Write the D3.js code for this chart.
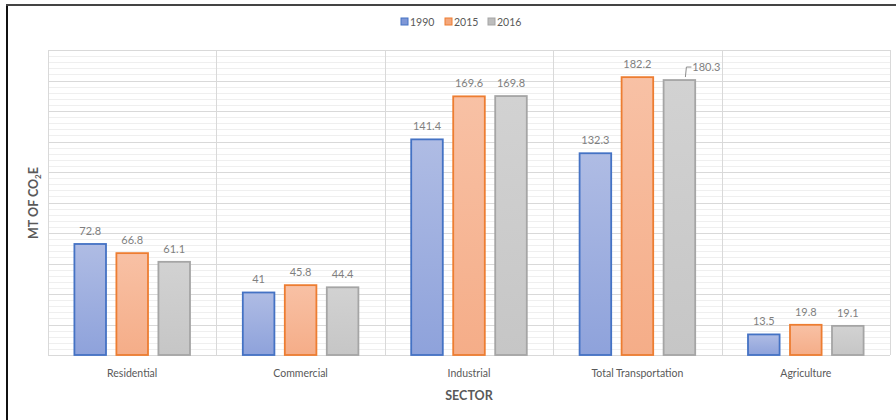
<!DOCTYPE html>
<html>
<head>
<meta charset="utf-8">
<script src="https://cdn.jsdelivr.net/npm/d3@7"></script>
<style>
  html, body { margin: 0; padding: 0; background: #fff; }
  svg { display: block; font-family: Lato, "Open Sans", sans-serif; }
</style>
</head>
<body>
<svg id="chart" width="896" height="420"></svg>
<script>
const categories = ["Residential", "Commercial", "Industrial", "Total Transportation", "Agriculture"];
const seriesNames = ["1990", "2015", "2016"];
const values1990 = [72.8, 41, 141.4, 132.3, 13.5];
const values2015 = [66.8, 45.8, 169.6, 182.2, 19.8];
const values2016 = [61.1, 44.4, 169.8, 180.3, 19.1];
const labels1990 = ["72.8", "41", "141.4", "132.3", "13.5"];
const labels2015 = ["66.8", "45.8", "169.6", "182.2", "19.8"];
const labels2016 = ["61.1", "44.4", "169.8", "180.3", "19.1"];
const yMax = 200;
const yMajorStep = 20;
const yMinorStep = 4;

(function () {
const seriesValues = [values1990, values2015, values2016];
const seriesLabels = [labels1990, labels2015, labels2016];
const fills = ["url(#gBlue)", "url(#gOrange)", "url(#gGray)"];
const strokes = ["#4472c4", "#ed7d31", "#a5a5a5"];
const legendFills = ["#7f97d6", "#f4a77c", "#bdbdbd"];

const svg = d3.select("#chart");
const defs = svg.append("defs");
function grad(id, c1, c2) {
  const g = defs.append("linearGradient").attr("id", id).attr("x1", 0).attr("y1", 0).attr("x2", 0).attr("y2", 1);
  g.append("stop").attr("offset", "0%").attr("stop-color", c1);
  g.append("stop").attr("offset", "100%").attr("stop-color", c2);
}
grad("gBlue", "#afbce4", "#8ea2db");
grad("gOrange", "#f8c1a5", "#f5ad88");
grad("gGray", "#d2d2d2", "#c6c6c6");

// outer frame
svg.append("line").attr("x1", 7).attr("x2", 7).attr("y1", 4).attr("y2", 420).attr("stroke", "#111").attr("stroke-width", 2);
svg.append("line").attr("x1", 6).attr("x2", 896).attr("y1", 5).attr("y2", 5).attr("stroke", "#444").attr("stroke-width", 2);

const pLeft = 48, pRight = 890, pTop = 50, pBottom = 355;
const x = d3.scaleBand().domain(categories).range([pLeft, pRight]).paddingInner(0).paddingOuter(0);
const y = d3.scaleLinear().domain([0, yMax]).range([pBottom, pTop]);

const minorTicks = d3.range(0, yMax + 0.001, yMinorStep).filter(v => Math.abs(v % yMajorStep) > 0.001);
svg.append("g").selectAll("line").data(minorTicks).join("line")
  .attr("x1", pLeft).attr("x2", pRight)
  .attr("y1", d => Math.round(y(d)) + 0.5).attr("y2", d => Math.round(y(d)) + 0.5)
  .attr("stroke", "#efefef").attr("stroke-width", 1);
const majorTicks = d3.range(0, yMax + 0.001, yMajorStep);
svg.append("g").selectAll("line").data(majorTicks).join("line")
  .attr("x1", pLeft).attr("x2", pRight)
  .attr("y1", d => Math.round(y(d)) + 0.5).attr("y2", d => Math.round(y(d)) + 0.5)
  .attr("stroke", "#d9d9d9").attr("stroke-width", 1);
const bounds = categories.map(c => x(c)).concat([pRight]);
svg.append("g").selectAll("line").data(bounds).join("line")
  .attr("x1", d => Math.round(d) + 0.5).attr("x2", d => Math.round(d) + 0.5)
  .attr("y1", pTop).attr("y2", pBottom)
  .attr("stroke", "#d9d9d9").attr("stroke-width", 1);

const x1 = d3.scaleBand().domain(seriesNames).range([0, 126]).paddingInner(0.2).paddingOuter(0.1);
const groupOffset = (x.bandwidth() - 126) / 2;

seriesNames.forEach((s, si) => {
  const g = svg.append("g");
  g.selectAll("rect").data(categories).join("rect")
    .attr("x", c => x(c) + groupOffset + x1(s) + 1)
    .attr("y", (c, i) => y(seriesValues[si][i]))
    .attr("width", x1.bandwidth() - 2)
    .attr("height", (c, i) => y(0) - y(seriesValues[si][i]))
    .attr("fill", fills[si])
    .attr("stroke", strokes[si])
    .attr("stroke-width", 1.8);
  g.selectAll("text").data(categories).join("text")
    .attr("x", (c, i) => {
      const cx = x(c) + groupOffset + x1(s) + x1.bandwidth() / 2;
      return (si === 2 && i === 3) ? cx + 27 : cx;
    })
    .attr("y", (c, i) => y(seriesValues[si][i]) - 9)
    .attr("text-anchor", "middle")
    .attr("font-size", 11)
    .attr("fill", "#7f7f7f")
    .text((c, i) => seriesLabels[si][i]);
});

// leader line for 180.3 label
const lc = categories[3];
const lcx = x(lc) + groupOffset + x1("2016") + x1.bandwidth() / 2;
const lyt = y(values2016[3]);
svg.append("path")
  .attr("d", `M${lcx + 12},${lyt - 13} L${lcx + 7},${lyt - 13} L${lcx + 6},${lyt - 3}`)
  .attr("fill", "none").attr("stroke", "#8c8c8c").attr("stroke-width", 1);

svg.append("g").selectAll("text").data(categories).join("text")
  .attr("x", c => x(c) + x.bandwidth() / 2)
  .attr("y", 377)
  .attr("text-anchor", "middle")
  .attr("font-size", 10.5)
  .attr("fill", "#595959")
  .text(c => c);

svg.append("text").attr("x", x(categories[2]) + x.bandwidth() / 2).attr("y", 400)
  .attr("text-anchor", "middle").attr("font-size", 12.5).attr("font-weight", "bold")
  .attr("fill", "#595959").text("SECTOR");

const ytitle = svg.append("text")
  .attr("transform", "translate(38,203) rotate(-90)")
  .attr("text-anchor", "middle").attr("font-size", 12.5).attr("font-weight", "bold")
  .attr("fill", "#595959");
ytitle.append("tspan").text("MT OF CO");
ytitle.append("tspan").attr("font-size", 8).attr("dy", 3).text("2");
ytitle.append("tspan").attr("dy", -3).text("E");

const legendX = [401, 445, 488];
const lg = svg.append("g");
seriesNames.forEach((s, i) => {
  lg.append("rect").attr("x", legendX[i]).attr("y", 18).attr("width", 7).attr("height", 7)
    .attr("fill", legendFills[i]).attr("stroke", strokes[i]).attr("stroke-width", 1);
  lg.append("text").attr("x", legendX[i] + 9).attr("y", 25.5)
    .attr("font-size", 10.5).attr("fill", "#595959").text(s);
});
})();
</script>
</body>
</html>
